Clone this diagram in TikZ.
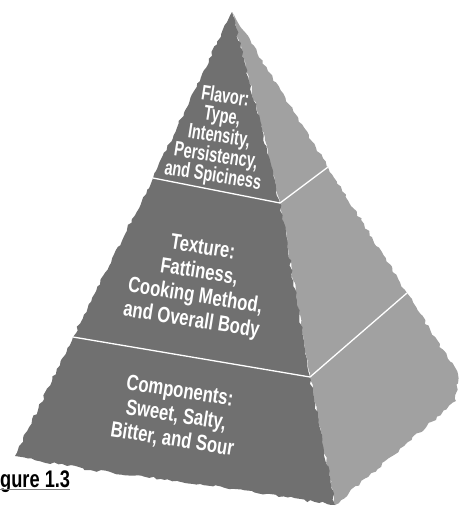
\documentclass[tikz,border=0pt]{standalone}
\usepackage{fontspec}
\newfontfamily\pyramidfont{Liberation Sans}[FakeStretch=0.76]
\newfontfamily\flavorfont{Liberation Sans}[FakeStretch=0.69]
\usepackage{tikz}
\usetikzlibrary{decorations.pathmorphing}
\usetikzlibrary{positioning,calc}
\definecolor{frontFace}{gray}{0.44}
\definecolor{sideFace}{gray}{0.63}

\begin{document}
\begin{tikzpicture}[
  x=1pt, y=-1pt,
  rough/.style={decorate, decoration={random steps, segment length=4pt, amplitude=1.4pt}},
  divider/.style={draw=white, line width=1.3pt}
]
	\tikzstyle{tierLabel} = [text=white, align=center, rotate=-9, inner sep=0pt, font=\pyramidfont\bfseries\fontsize{22}{24.5}\selectfont]
	\tikzstyle{flavorLabel} = [tierLabel, font=\flavorfont\bfseries\fontsize{21}{20}\selectfont]
	\tikzstyle{captionLabel} = [anchor=base west, inner sep=0pt, font=\pyramidfont\bfseries\fontsize{24}{24}\selectfont]

	\pgfmathsetseed{11}
	\useasboundingbox (0,0) rectangle (460,507);

	\coordinate (apex) at (232,12);
	\coordinate (ridgeUpper) at (280,203);
	\coordinate (ridgeLower) at (310,377);
	\coordinate (ridgeBottom) at (335,505);
	\coordinate (leftUpper) at (153,178);
	\coordinate (leftLower) at (73,337);
	\coordinate (leftBottom) at (15,456);
	\coordinate (rightUpper) at (328,167);
	\coordinate (rightLower) at (407,293);
	\coordinate (rightCorner) at (458,374);
	\coordinate (rightBottom) at (456,401);

	% side face
	\fill[sideFace, rough] (apex) -- (rightUpper) -- (rightLower) -- (rightCorner) -- (rightBottom) -- (ridgeBottom) -- (ridgeLower) -- (ridgeUpper) -- cycle;
	% front face
	\fill[frontFace, rough] (apex) -- (ridgeUpper) -- (ridgeLower) -- (ridgeBottom) -- (200,484) -- (90,470) -- (leftBottom) -- (leftLower) -- (leftUpper) -- cycle;

	\draw[divider] (leftUpper) -- (ridgeUpper) -- (rightUpper);
	\draw[divider] (leftLower) -- (ridgeLower) -- (rightLower);

	\node[flavorLabel] (flavor) at (219,137) {Flavor:\\Type,\\Intensity,\\Persistency,\\and Spiciness};
	\node[tierLabel] (texture) at (197,285) {Texture:\\Fattiness,\\Cooking Method,\\and Overall Body};
	\node[tierLabel] (components) at (176,416) {Components:\\Sweet, Salty,\\Bitter, and Sour};

	\node[captionLabel] (figCaption) at (0,487) {gure 1.3};
	\draw[gray, line width=1pt] ([yshift=-2pt]figCaption.base west) -- ([yshift=-2pt]figCaption.base east);

\end{tikzpicture}
\end{document}
